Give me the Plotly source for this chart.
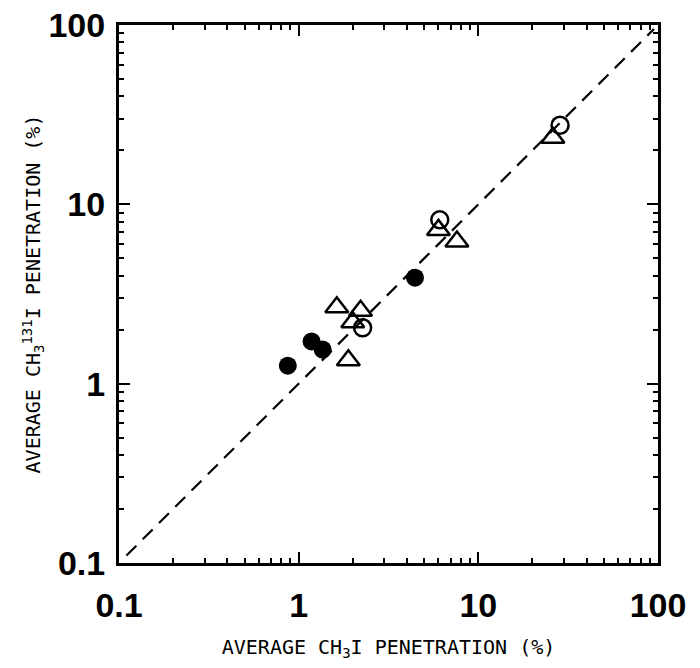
import plotly.graph_objects as go

# Average penetration: stable CH3I (x) vs radioactive CH3-131-I (y), percent
filled_x = [0.87, 1.18, 1.36, 4.44]
filled_y = [1.26, 1.72, 1.55, 3.9]

open_circle_x = [2.27, 6.1, 28.5]
open_circle_y = [2.05, 8.2, 27.6]

triangle_x = [1.63, 2.21, 2.0, 1.89, 6.0, 7.6, 26.0]
triangle_y = [2.67, 2.55, 2.2, 1.35, 7.2, 6.2, 23.5]

# 1:1 reference line
ref_x = [0.11, 95]
ref_y = [0.11, 95]

tick_vals = [0.1, 1, 10, 100]
tick_text = ["0.1", "1", "10", "100"]
minor_vals = [m * d for d in (0.1, 1, 10) for m in range(2, 10)]

fig = go.Figure()

fig.add_trace(go.Scatter(
    x=ref_x, y=ref_y, mode="lines",
    line=dict(color="black", width=2.2, dash="14px,9px"),
    hoverinfo="skip", showlegend=False,
))

fig.add_trace(go.Scatter(
    x=triangle_x, y=triangle_y, mode="markers",
    marker=dict(symbol="triangle-up-open", size=20, color="black",
                line=dict(color="black", width=2.5)),
    showlegend=False,
))

fig.add_trace(go.Scatter(
    x=open_circle_x, y=open_circle_y, mode="markers",
    marker=dict(symbol="circle-open", size=17, color="black",
                line=dict(color="black", width=2.5)),
    showlegend=False,
))

fig.add_trace(go.Scatter(
    x=filled_x, y=filled_y, mode="markers",
    marker=dict(symbol="circle", size=18, color="black",
                line=dict(color="black", width=0)),
    showlegend=False,
))

tick_font = dict(family="Liberation Sans, Arial, sans-serif", size=34,
                 color="black", weight="bold")
title_font = dict(family="DejaVu Sans Mono, Liberation Mono, monospace",
                  size=20, color="black")

axis_common = dict(
    type="log",
    range=[-1, 2],
    tickmode="array",
    tickvals=tick_vals,
    ticktext=tick_text,
    ticks="inside",
    ticklen=11,
    tickwidth=2,
    tickcolor="black",
    tickfont=tick_font,
    showline=True,
    linecolor="black",
    linewidth=3,
    mirror="ticks",
    showgrid=False,
    zeroline=False,
    automargin=False,
    minor=dict(tickmode="array", tickvals=minor_vals, ticks="inside",
               ticklen=5, tickwidth=2, tickcolor="black", showgrid=False),
)

fig.update_xaxes(
    **axis_common,
    ticklabelstandoff=10,
    title=dict(text="AVERAGE CH<sub>3</sub>I PENETRATION (%)", font=title_font,
               standoff=18),
)
fig.update_yaxes(
    **axis_common,
    ticklabelstandoff=4,
    title=dict(text="AVERAGE CH<sub>3</sub><sup>131</sup>I PENETRATION (%)",
               font=title_font, standoff=3),
)

fig.update_layout(
    width=700, height=668,
    margin=dict(l=119, r=42, t=25, b=105),
    plot_bgcolor="white",
    paper_bgcolor="white",
)

fig.write_html("out.html")
